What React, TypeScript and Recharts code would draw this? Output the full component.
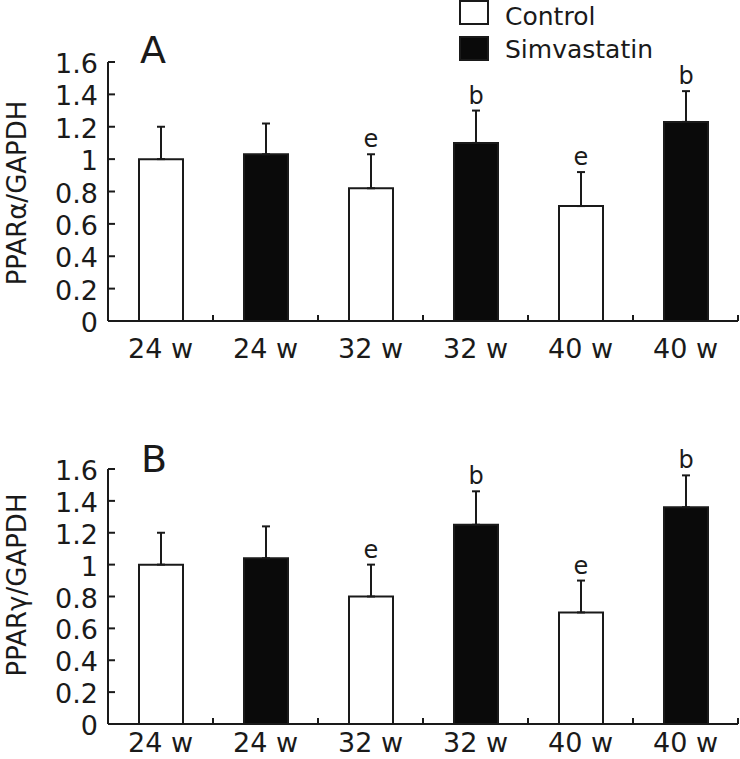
import React from 'react';
import { BarChart, Bar, XAxis, YAxis, ErrorBar, Cell, LabelList } from 'recharts';

const weeks = ['24 w', '24 w', '32 w', '32 w', '40 w', '40 w'];
const groups = ['Control', 'Simvastatin', 'Control', 'Simvastatin', 'Control', 'Simvastatin'];
const alphaMeans = [1.0, 1.03, 0.82, 1.1, 0.71, 1.23];
const alphaErrors = [0.2, 0.19, 0.21, 0.2, 0.21, 0.19];
const alphaSig = ['', '', 'e', 'b', 'e', 'b'];
const gammaMeans = [1.0, 1.04, 0.8, 1.25, 0.7, 1.36];
const gammaErrors = [0.2, 0.2, 0.2, 0.21, 0.2, 0.2];
const gammaSig = ['', '', 'e', 'b', 'e', 'b'];
const yTickValues = [0, 0.2, 0.4, 0.6, 0.8, 1, 1.2, 1.4, 1.6];
const yTickLabels = ['0', '0.2', '0.4', '0.6', '0.8', '1', '1.2', '1.4', '1.6'];
const legendItems = ['Control', 'Simvastatin'];

const FONT = '"DejaVu Sans", Verdana, sans-serif';
const INK = '#1a1a1a';
const fillOf = (g: string) => (g === 'Control' ? '#ffffff' : '#0a0a0a');

const buildData = (means: number[], errs: number[], sigs: string[]) =>
  weeks.map((w, i) => ({
    key: `${w} ${groups[i]}`,
    mean: means[i],
    err: [0, errs[i]],
    sig: sigs[i],
    group: groups[i],
  }));

const alphaData = buildData(alphaMeans, alphaErrors, alphaSig);
const gammaData = buildData(gammaMeans, gammaErrors, gammaSig);

const makeXTick = (labelDy: number) => (props: any) => {
  const { x, y, payload, index, width, visibleTicksCount } = props;
  const half =
    payload && typeof payload.offset === 'number' && payload.offset > 0
      ? payload.offset
      : width / (visibleTicksCount || 6) / 2;
  return (
    <g>
      <line x1={x + half} x2={x + half} y1={y} y2={y - 6} stroke={INK} strokeWidth={2} />
      <text x={x} y={y} dy={labelDy} textAnchor="middle" fontSize={27} fontFamily={FONT} fill={INK}>
        {weeks[index]}
      </text>
    </g>
  );
};

const YTick = (props: any) => {
  const { x, y, payload } = props;
  const idx = yTickValues.indexOf(payload.value);
  return (
    <g>
      <line x1={x} x2={x + 7} y1={y} y2={y} stroke={INK} strokeWidth={2} />
      <text x={x - 10} y={y} dy={11} textAnchor="end" fontSize={27} fontFamily={FONT} fill={INK}>
        {idx >= 0 ? yTickLabels[idx] : String(payload.value)}
      </text>
    </g>
  );
};

const makeSigLabel = (means: number[], errs: number[], sigs: string[]) => (props: any) => {
  const { x, y, width, height, index } = props;
  if (!sigs[index]) return null;
  const pxPerUnit = Math.abs(height) / means[index];
  const top = y - errs[index] * pxPerUnit;
  return (
    <text
      x={x + width / 2}
      y={top}
      dy={-7}
      textAnchor="middle"
      fontSize={24}
      fontFamily={FONT}
      fill={INK}
    >
      {sigs[index]}
    </text>
  );
};

type PanelProps = {
  data: any[];
  means: number[];
  errs: number[];
  sigs: string[];
  height: number;
  marginTop: number;
  xAxisHeight: number;
  labelDy: number;
};

const Panel = ({ data, means, errs, sigs, height, marginTop, xAxisHeight, labelDy }: PanelProps) => {
  const XTick = makeXTick(labelDy);
  return (
    <BarChart
      width={740}
      height={height}
      data={data}
      margin={{ top: marginTop, right: 2, left: 0, bottom: 0 }}
    >
      <XAxis
        dataKey="key"
        height={xAxisHeight}
        tickSize={0}
        tickMargin={0}
        tickLine={false}
        interval={0}
        axisLine={{ stroke: INK, strokeWidth: 2 }}
        tick={<XTick />}
      />
      <YAxis
        type="number"
        domain={[0, 1.6]}
        ticks={yTickValues}
        width={108}
        tickSize={0}
        tickMargin={0}
        tickLine={false}
        interval={0}
        axisLine={{ stroke: INK, strokeWidth: 2 }}
        tick={<YTick />}
      />
      <Bar dataKey="mean" barSize={44} stroke={INK} strokeWidth={2} isAnimationActive={false}>
        {data.map((d) => (
          <Cell key={d.key} fill={fillOf(d.group)} />
        ))}
        <ErrorBar dataKey="err" width={4} strokeWidth={2} stroke={INK} direction="y" isAnimationActive={false} />
        <LabelList dataKey="sig" content={makeSigLabel(means, errs, sigs)} />
      </Bar>
    </BarChart>
  );
};

export default function App() {
  return (
    <div
      style={{
        position: 'absolute',
        left: 0,
        top: 0,
        width: 740,
        height: 759,
        background: '#fff',
        overflow: 'hidden',
      }}
    >
      <div style={{ position: 'absolute', left: 0, top: 0 }}>
        <Panel
          data={alphaData}
          means={alphaMeans}
          errs={alphaErrors}
          sigs={alphaSig}
          height={380}
          marginTop={62}
          xAxisHeight={59}
          labelDy={37}
        />
      </div>
      <div style={{ position: 'absolute', left: 0, top: 380 }}>
        <Panel
          data={gammaData}
          means={gammaMeans}
          errs={gammaErrors}
          sigs={gammaSig}
          height={379}
          marginTop={89}
          xAxisHeight={35}
          labelDy={28}
        />
      </div>
      <svg
        width={740}
        height={759}
        style={{ position: 'absolute', left: 0, top: 0, pointerEvents: 'none' }}
      >
        <text x={140} y={63} fontSize={38} fontFamily={FONT} fill={INK}>A</text>
        <text x={141} y={472} fontSize={38} fontFamily={FONT} fill={INK}>B</text>
        <text
          x={17}
          y={193}
          transform="rotate(-90 17 193)"
          textAnchor="middle"
          dominantBaseline="central"
          fontSize={26}
          fontFamily={FONT}
          fill={INK}
        >
          PPARα/GAPDH
        </text>
        <text
          x={17}
          y={585}
          transform="rotate(-90 17 585)"
          textAnchor="middle"
          dominantBaseline="central"
          fontSize={26}
          fontFamily={FONT}
          fill={INK}
        >
          PPARγ/GAPDH
        </text>
        {legendItems.map((g, i) => (
          <g key={g}>
            <rect
              x={460}
              y={1 + i * 36}
              width={28}
              height={23}
              fill={fillOf(g)}
              stroke={INK}
              strokeWidth={2}
            />
            <text x={505} y={25 + i * 33} fontSize={25} fontFamily={FONT} fill={INK}>
              {g}
            </text>
          </g>
        ))}
      </svg>
    </div>
  );
}
